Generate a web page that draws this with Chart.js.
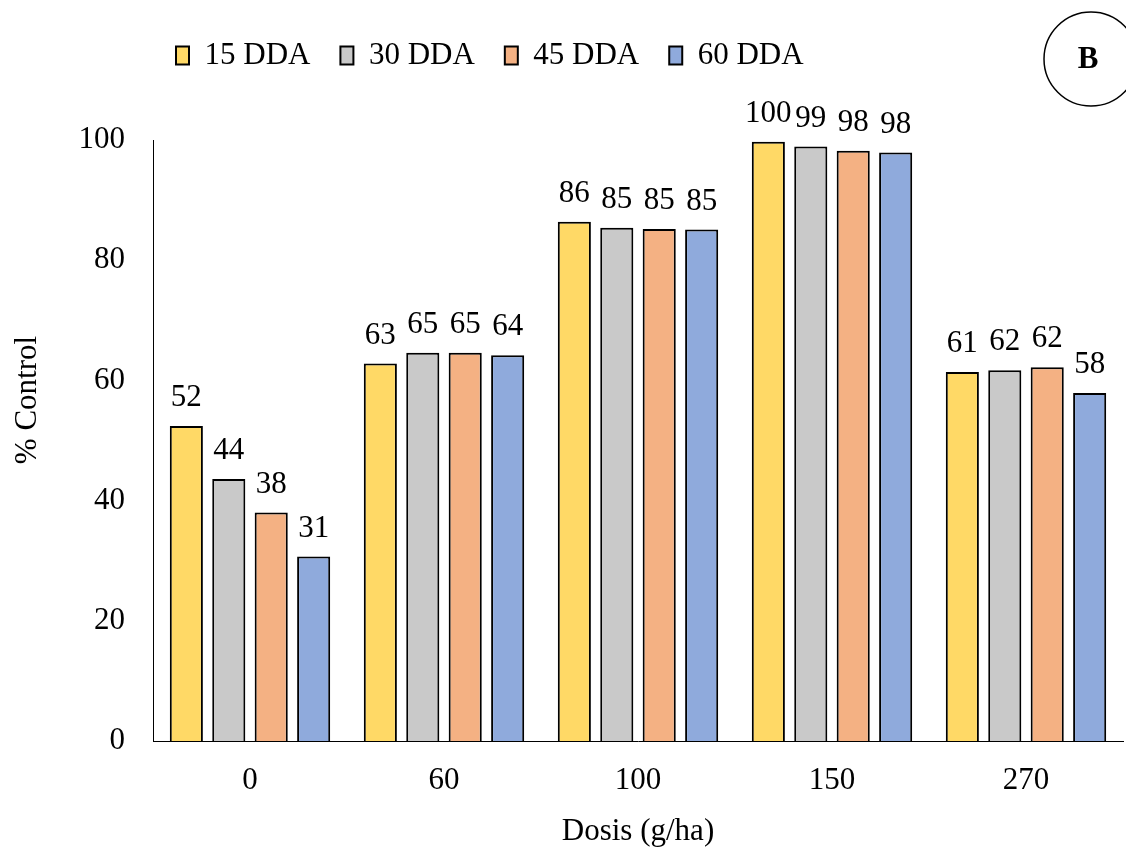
<!DOCTYPE html>
<html>
<head>
<meta charset="utf-8">
<script src="https://cdn.jsdelivr.net/npm/chart.js@4.4.1/dist/chart.umd.min.js"></script>
<style>
html, body { margin: 0; padding: 0; background: #fff; }
#wrap { width: 1126px; height: 851px; position: relative; }
</style>
</head>
<body>
<div id="wrap"><canvas id="myChart"></canvas></div>
<script>
//------------------------------------------------------//
// data
const doses = ["0", "60", "100", "150", "270"]
const seriesNames = ["15 DDA", "30 DDA", "45 DDA", "60 DDA"]
const dda15 = [52.4, 62.8, 86.4, 99.7, 61.4]
const dda30 = [43.6, 64.6, 85.4, 98.9, 61.7]
const dda45 = [38.0, 64.6, 85.2, 98.2, 62.2]
const dda60 = [30.7, 64.2, 85.1, 97.9, 57.9]
const yTicks = [0, 20, 40, 60, 80, 100]

const fillColors = ["#FFD966", "#C9C9C9", "#F4B183", "#8FAADC"]
const serif = "'Liberation Serif', 'Times New Roman', serif"

Chart.defaults.font.family = serif
Chart.defaults.font.size = 31
Chart.defaults.color = "#000"

//------------------------------------------------------//
// small plugins: legend nudge, value labels, y title and the "B" badge
const legendNudge = {
    id: "legendNudge",
    afterLayout(chart) {
        chart.legend.left += 146
        chart.legend.top -= 59
    }
}

const barLabels = {
    id: "barLabels",
    afterDatasetsDraw(chart) {
        const ctx = chart.ctx
        ctx.save()
        ctx.font = "31px " + serif
        ctx.fillStyle = "#000"
        ctx.textAlign = "center"
        ctx.textBaseline = "middle"
        chart.data.datasets.forEach((ds, i) => {
            chart.getDatasetMeta(i).data.forEach((bar, j) => {
                ctx.fillText(Math.round(ds.data[j]), bar.x, bar.y - 28)
            })
        })
        ctx.restore()
    }
}

const extras = {
    id: "extras",
    afterDraw(chart) {
        const ctx = chart.ctx
        ctx.save()
        // y axis title
        ctx.translate(28, 400)
        ctx.rotate(-Math.PI / 2)
        ctx.font = "31px " + serif
        ctx.fillStyle = "#000"
        ctx.textAlign = "center"
        ctx.textBaseline = "middle"
        ctx.fillText("% Control", 0, 0)
        ctx.restore()
        // panel badge
        ctx.save()
        ctx.beginPath()
        ctx.arc(1091, 59, 47, 0, Math.PI * 2)
        ctx.lineWidth = 1.5
        ctx.strokeStyle = "#000"
        ctx.stroke()
        ctx.font = "bold 31px " + serif
        ctx.fillStyle = "#000"
        ctx.textAlign = "center"
        ctx.textBaseline = "middle"
        ctx.fillText("B", 1088, 60)
        ctx.restore()
    }
}

//------------------------------------------------------//
const makeSet = (name, values, color) => ({
    label: name,
    data: values,
    backgroundColor: color,
    borderColor: "#000",
    borderWidth: 2,
    categoryPercentage: 0.875,
    barPercentage: 0.78
})

const ctx = document.getElementById("myChart").getContext("2d")
const chart = new Chart(ctx, {
    type: "bar",
    data: {
        labels: doses,
        datasets: [
            makeSet(seriesNames[0], dda15, fillColors[0]),
            makeSet(seriesNames[1], dda30, fillColors[1]),
            makeSet(seriesNames[2], dda45, fillColors[2]),
            makeSet(seriesNames[3], dda60, fillColors[3])
        ]
    },
    options: {
        responsive: true,
        maintainAspectRatio: false,
        animation: false,
        layout: { padding: { top: 69, right: 3, left: 0, bottom: 0 } },
        plugins: {
            legend: {
                position: "top",
                align: "start",
                labels: { boxWidth: 13, boxHeight: 18, padding: 30, font: { size: 31 } }
            },
            tooltip: { enabled: false }
        },
        scales: {
            x: {
                grid: { display: false, drawTicks: false },
                border: { display: true, color: "#000", width: 1 },
                ticks: { padding: 21, font: { size: 31 } },
                title: { display: true, text: "Dosis (g/ha)", font: { size: 31 }, padding: { top: 0, bottom: 1 } },
                afterFit: (scale) => { scale.height = 110 }
            },
            y: {
                min: 0,
                max: 100,
                grid: { display: false, drawTicks: false },
                border: { display: true, color: "#000", width: 1 },
                ticks: { padding: 28, font: { size: 31 } },
                afterBuildTicks: (scale) => { scale.ticks = yTicks.map(v => ({ value: v })) },
                afterFit: (scale) => { scale.width = 153 }
            }
        }
    },
    plugins: [legendNudge, barLabels, extras]
})
</script>
</body>
</html>
